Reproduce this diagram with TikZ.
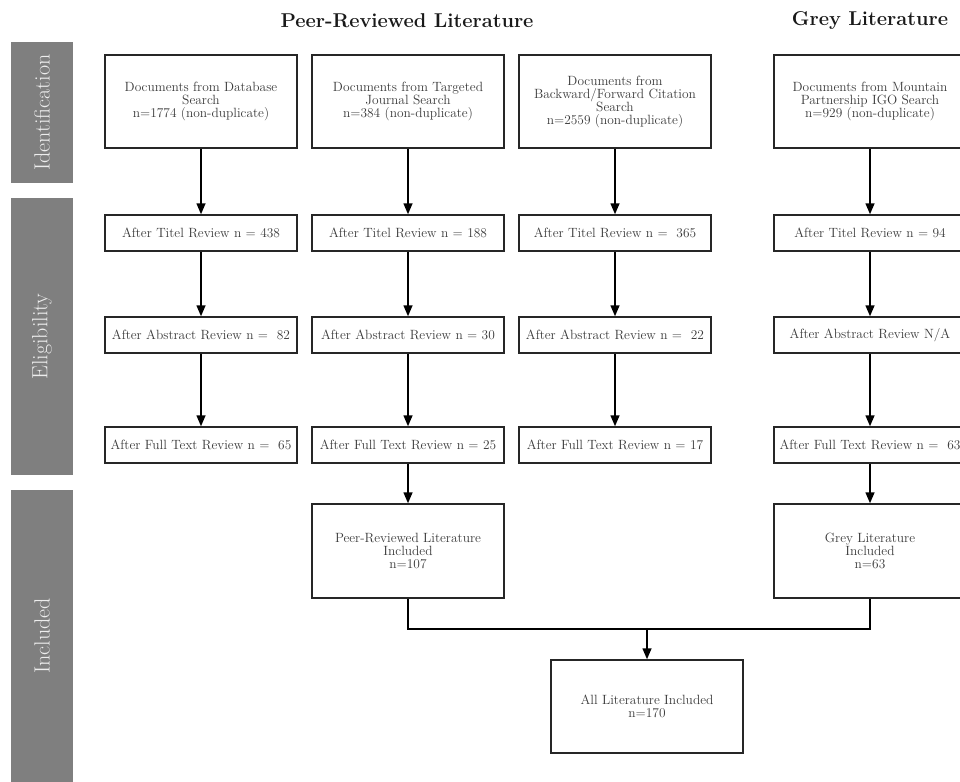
\documentclass[tikz,border=0pt]{standalone}
\usepackage{tikz}
\usetikzlibrary{arrows.meta}

\definecolor{bargrey}{HTML}{7F7F7F}
\definecolor{textgrey}{HTML}{3A3A3A}

\begin{document}
\begin{tikzpicture}[x=1pt,y=-1pt,
	box/.style={draw=black!85, line width=1.5pt, fill=white, text=textgrey, align=center,
		minimum width=192pt, inner sep=2pt, font=\fontsize{13.4}{13}\selectfont},
	tallbox/.style={box, minimum height=93pt},
	flatbox/.style={box, minimum height=36pt},
	stage/.style={fill=bargrey, rotate=90, minimum height=62pt, inner sep=0pt,
		text=white!93!black, font=\fontsize{22}{22}\selectfont},
	head/.style={font=\bfseries\fontsize{20}{20}\selectfont, text=black!90},
	flow/.style={line width=1.5pt, -{Triangle[length=11pt,width=9pt]}}]
	\useasboundingbox (0,0) rectangle (960,781);

	% stages
	\node[stage, minimum width=141pt] (ident) at (42,112.5) {Identification};
	\node[stage, minimum width=277pt] (elig)  at (42,336.5) {Eligibility};
	\node[stage, minimum width=292pt] (incl)  at (42,636)   {Included};

	% headings
	\node[head] (peerhead) at (407,21) {Peer-Reviewed Literature};
	\node[head] (greyhead) at (870,21) {Grey Literature};

	% identification
	\node[tallbox] (dbS)  at (201,101.5) {Documents from Database\\Search\\n=1774 (non-duplicate)};
	\node[tallbox] (jrS)  at (408,101.5) {Documents from Targeted\\Journal Search\\n=384 (non-duplicate)};
	\node[tallbox] (ctS)  at (615,101.5) {Documents from\\Backward/Forward Citation\\Search\\n=2559 (non-duplicate)};
	\node[tallbox] (igoS) at (870,101.5) {Documents from Mountain\\Partnership IGO Search\\n=929 (non-duplicate)};

	% title review
	\node[flatbox] (dbT)  at (201,233) {After Titel Review n = 438};
	\node[flatbox] (jrT)  at (408,233) {After Titel Review n = 188};
	\node[flatbox] (ctT)  at (615,233) {After Titel Review n =\ \ 365};
	\node[flatbox] (igoT) at (870,233) {After Titel Review n = 94};

	% abstract review
	\node[flatbox] (dbA)  at (201,335) {After Abstract Review n =\ \ 82};
	\node[flatbox] (jrA)  at (408,335) {After Abstract Review n = 30};
	\node[flatbox] (ctA)  at (615,335) {After Abstract Review n =\ \ 22};
	\node[flatbox] (igoA) at (870,335) {After Abstract Review N/A};

	% full text review
	\node[flatbox] (dbF)  at (201,445) {After Full Text Review n =\ \ 65};
	\node[flatbox] (jrF)  at (408,445) {After Full Text Review n = 25};
	\node[flatbox] (ctF)  at (615,445) {After Full Text Review n = 17};
	\node[flatbox] (igoF) at (870,445) {After Full Text Review n =\ \ 63};

	% included
	\node[tallbox, minimum height=94pt] (peer) at (408,551) {Peer-Reviewed Literature\\Included\\n=107};
	\node[tallbox, minimum height=94pt] (grey) at (870,551) {Grey Literature\\Included\\n=63};
	\node[tallbox] (all) at (647,706.5) {All Literature Included\\n=170};

	% arrows
	\foreach \c in {db,jr,ct,igo} {
		\draw[flow] (\c S) -- (\c T);
		\draw[flow] (\c T) -- (\c A);
		\draw[flow] (\c A) -- (\c F);
	}
	\draw[flow] (jrF) -- (peer);
	\draw[flow] (igoF) -- (grey);

	% merge
	\coordinate (join) at (647,629);
	\draw[line width=1.5pt] (peer.south) |- (join) -| (grey.south);
	\draw[flow] (join) -- (all);

\end{tikzpicture}
\end{document}
